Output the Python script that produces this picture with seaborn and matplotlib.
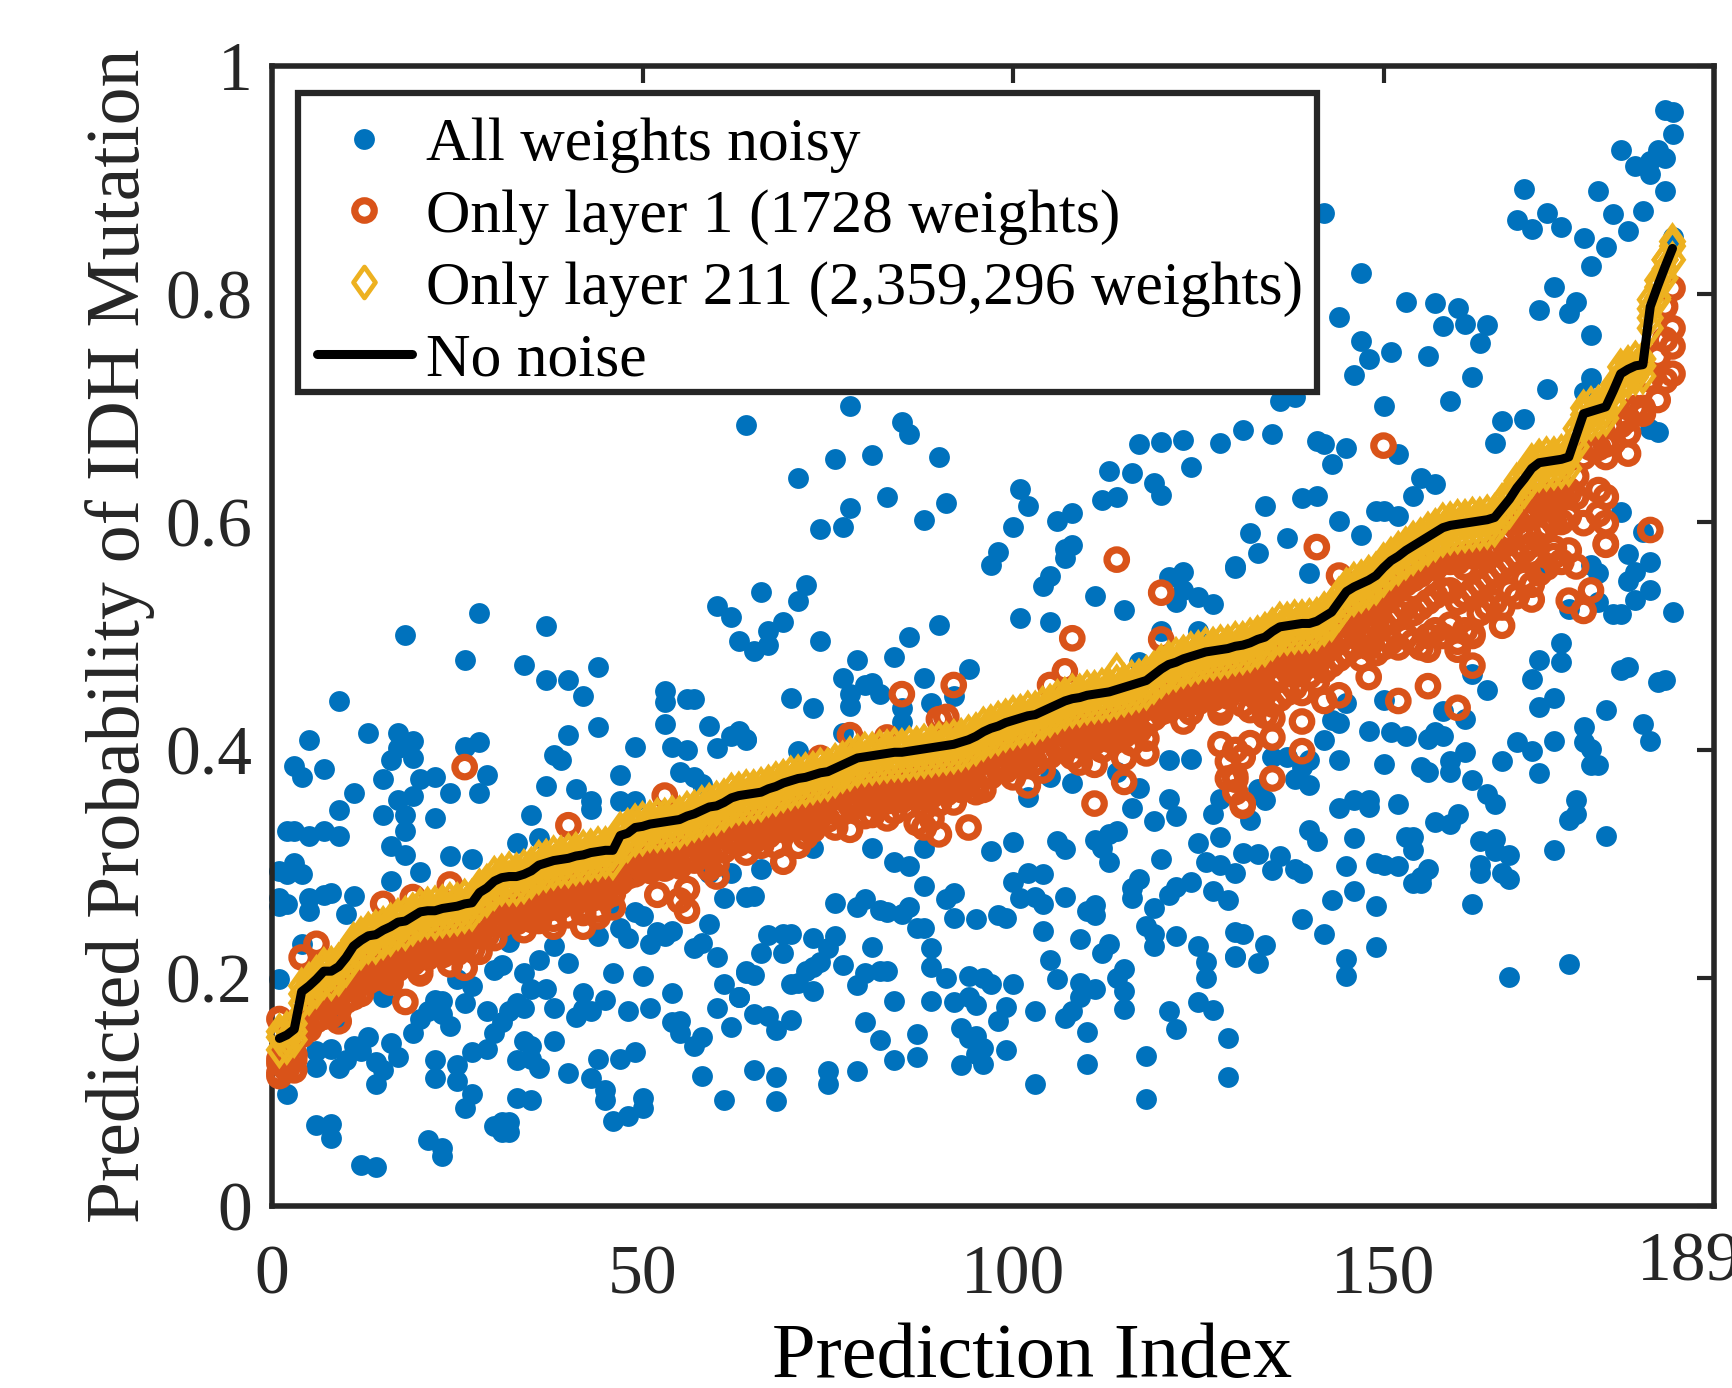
import matplotlib
matplotlib.use('Agg')
import matplotlib.pyplot as plt
from matplotlib.lines import Line2D
from matplotlib.patches import Rectangle
from matplotlib.path import Path
import pandas as pd
import seaborn as sns

# All weights noisy as (prediction index, probability)
noisy_left = [(28,.520),(18,.501),(37,.509),(26,.479),(34,.475),(37,.461),(40,.461),(42,.447),(44,.473),(9,.443),
    (5,.409),(13,.415),(17,.415),(19,.408),(3,.386),(4,.376),(7,.383),(17,.402),(16,.391),(19,.393),
    (15,.375),(26,.403),(28,.407),(29,.378),(20,.375),(22,.376),(24,.362),(28,.362),(19,.360),(17,.356),
    (11,.362),(9,.347),(15,.343),(18,.343),(22,.340),(18,.329),(2,.329),(3,.329),(5,.325),(7,.329),
    (9,.325),(16,.316),(18,.308),(24,.307),(27,.304),(1,.294),(3,.301),(4,.291),(2,.291),(20,.293),
    (16,.285),(1,.270),(1,.263),(2,.265),(5,.270),(5,.259),(8,.275),(11,.272),(10,.256),(7,.273),
    (4,.230),(1,.199),(15,.183),(9,.162),(6,.136),(6,.122),(8,.138),(9,.121),(10,.128),(11,.140),
    (13,.148),(12,.136),(14,.126),(15,.119),(14,.107),(16,.143),(17,.131),(19,.152),(20,.164),(21,.171),
    (22,.181),(23,.180),(23,.168),(24,.158),(26,.178),(25,.199),(27,.193),(22,.128),(22,.112),(25,.124),
    (25,.110),(27,.135),(29,.171),(27,.098),(26,.086),(29,.138),(30,.152),(31,.161),(32,.171),(33,.178),
    (34,.174),(35,.190),(37,.190),(38,.174),(30,.207),(31,.211),(34,.204),(36,.216),(38,.228),(40,.213),
    (32,.232),(34,.145),(35,.140),(38,.145),(33,.128),(35,.129),(36,.121),(40,.117),(43,.112),(44,.129),
    (45,.102),(45,.093),(47,.129),(49,.135),(50,.095),(50,.086),(46,.075),(48,.079),(33,.095),(35,.093),
    (30,.070),(31,.074),(32,.074),(31,.065),(32,.065),(6,.071),(8,.072),(8,.060),(21,.058),(23,.051),
    (23,.044),(12,.036),(14,.034),(2,.098),(42,.187),(42,.173),(41,.166),(43,.171),(45,.181),(48,.171),
    (51,.174),(46,.204),(50,.202),(54,.187),(54,.161),(55,.162),(55,.152),(58,.148),(57,.140),(58,.114),
    (61,.093),(60,.174),(63,.183),(61,.195),(60,.218),(62,.157),(64,.206),(44,.237),(46,.261),(47,.244),
    (48,.235),(49,.258),(50,.254),(51,.230),(52,.240),(54,.241),(53,.237),(57,.226),(58,.231),(59,.247),
    (61,.270),(33,.318),(36,.323),(35,.343),(37,.368),(38,.396),(39,.391),(40,.413),(44,.420),(41,.366),
    (43,.355),(43,.348),(47,.378),(49,.403),(47,.355),(49,.355),(53,.452),(53,.442),(53,.423),(56,.445),
    (57,.445),(59,.421),(54,.403),(56,.400),(60,.402),(62,.412),(63,.415),(64,.410),(55,.381),(57,.376),
    (58,.370),(60,.526),(62,.517),(59,.292),(62,.292),(48,.289),(46,.289)]

noisy_mid = [(64,.685),(78,.702),(85,.688),(86,.677),(76,.655),(81,.659),(90,.657),(71,.639),(83,.622),(91,.617),
    (78,.612),(74,.594),(77,.596),(88,.602),(117,.668),(120,.670),(123,.672),(128,.669),(131,.681),(124,.648),
    (113,.645),(116,.643),(119,.634),(120,.624),(112,.619),(114,.622),(101,.629),(102,.614),(108,.608),(106,.601),
    (100,.596),(98,.574),(97,.562),(108,.580),(107,.576),(107,.568),(105,.553),(104,.544),(121,.552),(123,.556),
    (130,.561),(123,.540),(122,.530),(125,.534),(127,.528),(111,.535),(115,.523),(101,.516),(105,.512),(66,.539),
    (72,.545),(71,.531),(69,.512),(67,.504),(67,.492),(65,.487),(63,.496),(74,.496),(86,.499),(90,.510),
    (84,.482),(79,.479),(94,.471),(88,.463),(77,.463),(81,.459),(80,.457),(82,.449),(78,.449),(78,.439),
    (70,.446),(73,.437),(85,.437),(89,.441),(92,.447),(64,.409),(63,.417),(77,.415),(71,.399),(85,.425),
    (120,.504),(117,.477),(125,.504),(66,.296),(73,.314),(81,.314),(88,.314),(97,.311),(100,.319),(84,.302),
    (86,.298),(88,.281),(92,.275),(91,.269),(92,.253),(95,.252),(98,.255),(99,.253),(65,.272),(64,.271),
    (76,.266),(79,.262),(80,.269),(82,.260),(83,.258),(85,.256),(86,.262),(87,.244),(88,.244),(67,.238),
    (69,.239),(70,.239),(66,.222),(73,.235),(76,.237),(75,.226),(69,.222),(81,.227),(89,.226),(89,.210),
    (91,.200),(65,.203),(64,.204),(74,.214),(77,.211),(73,.210),(72,.206),(71,.196),(73,.189),(70,.195),
    (79,.194),(80,.204),(82,.206),(83,.206),(84,.180),(89,.180),(92,.179),(94,.202),(96,.200),(97,.195),
    (100,.195),(94,.183),(95,.176),(99,.175),(98,.162),(103,.171),(63,.183),(65,.168),(67,.167),(68,.154),
    (70,.163),(80,.161),(82,.146),(87,.151),(87,.131),(84,.128),(93,.156),(94,.147),(95,.149),(96,.139),
    (99,.137),(93,.124),(95,.133),(96,.125),(65,.119),(68,.113),(75,.118),(75,.107),(79,.118),(68,.092),
    (103,.107),(110,.125),(118,.132),(118,.094),(129,.147),(129,.113),(110,.153),(107,.165),(121,.171),(122,.155),
    (125,.179),(127,.172),(115,.173),(111,.190),(109,.196),(109,.183),(108,.171),(106,.199),(105,.216),(104,.241),
    (109,.234),(112,.222),(113,.230),(115,.208),(114,.200),(115,.189),(117,.287),(116,.279),(116,.270),(119,.261),
    (118,.246),(119,.239),(119,.228),(122,.237),(122,.280),(121,.273),(124,.284),(127,.276),(129,.268),(125,.228),
    (126,.214),(126,.200),(130,.240),(130,.219),(130,.292),(128,.299),(126,.302),(125,.318),(128,.324),(120,.304),
    (106,.320),(107,.313),(111,.321),(112,.314),(113,.302),(114,.329),(113,.326),(100,.284),(101,.270),(102,.292),
    (103,.271),(104,.265),(104,.291),(107,.271),(110,.259),(111,.264),(111,.255),(119,.338),(122,.342),(121,.357),
    (116,.349),(127,.344),(128,.357),(105,.376),(108,.371),(117,.367),(114,.381),(121,.391),(124,.392),(102,.359)]

noisy_right = [(188,.961),(189,.960),(189,.940),(182,.926),(187,.926),(188,.919),(186,.917),(184,.912),(186,.905),(188,.890),
    (169,.892),(179,.890),(168,.865),(170,.857),(172,.871),(174,.859),(181,.870),(185,.873),(183,.855),(177,.849),
    (180,.841),(178,.825),(173,.806),(171,.786),(176,.793),(175,.783),(178,.764),(189,.850),(142,.871),(147,.818),
    (144,.780),(153,.793),(157,.792),(160,.788),(158,.772),(161,.774),(164,.773),(163,.757),(156,.746),(151,.749),
    (147,.759),(148,.743),(146,.729),(162,.727),(159,.706),(150,.702),(172,.717),(136,.706),(138,.710),(135,.677),
    (141,.671),(142,.668),(145,.665),(143,.651),(152,.660),(166,.689),(169,.690),(165,.669),(155,.639),(157,.633),
    (154,.623),(141,.623),(139,.621),(134,.614),(149,.610),(150,.610),(152,.605),(144,.601),(132,.590),(137,.586),
    (147,.589),(133,.573),(130,.560),(140,.555),(187,.679),(186,.682),(178,.726),(177,.714),(182,.609),(183,.572),
    (186,.565),(184,.556),(179,.555),(178,.562),(172,.561),(185,.591),(189,.521),(181,.519),(182,.519),(186,.540),
    (184,.532),(183,.548),(179,.530),(175,.524),(174,.494),(174,.477),(171,.479),(170,.462),(182,.470),(183,.473),
    (187,.460),(188,.461),(164,.453),(162,.467),(173,.446),(171,.438),(180,.435),(177,.420),(177,.407),(178,.401),
    (185,.423),(186,.408),(173,.408),(168,.407),(170,.399),(161,.427),(158,.434),(150,.444),(145,.441),(144,.424),
    (143,.426),(148,.417),(151,.416),(153,.412),(156,.410),(157,.416),(158,.412),(142,.409),(144,.391),(150,.388),
    (155,.385),(156,.381),(159,.390),(159,.381),(161,.398),(166,.390),(171,.380),(178,.387),(179,.387),(162,.374),
    (164,.361),(165,.353),(176,.356),(176,.344),(175,.339),(152,.353),(148,.356),(148,.350),(146,.356),(144,.349),
    (160,.344),(159,.335),(157,.337),(180,.325),(173,.312),(163,.320),(165,.322),(167,.308),(165,.311),(146,.323),
    (140,.330),(141,.320),(154,.324),(153,.324),(154,.312),(131,.310),(133,.309),(136,.307),(135,.295),(138,.296),
    (139,.292),(145,.298),(149,.301),(150,.299),(152,.298),(156,.296),(155,.289),(154,.283),(155,.283),(163,.299),
    (163,.292),(166,.292),(167,.287),(146,.276),(143,.268),(149,.263),(162,.265),(139,.252),(142,.239),(131,.239),
    (134,.229),(130,.218),(133,.213),(145,.217),(145,.202),(149,.227),(167,.201),(175,.212),(132,.339),(134,.356),
    (133,.366),(138,.375),(140,.369),(139,.385),(140,.391),(137,.394),(135,.394)]

# No noise, one value per prediction index 1..189
no_noise = [.147,.150,.155,.188,.193,.199,.206,.206,.210,.218,
    .228,.233,.237,.238,.242,.245,.249,.250,.254,.258,
    .259,.259,.261,.262,.263,.265,.266,.275,.279,.285,
    .288,.289,.289,.291,.294,.299,.301,.303,.304,.305,
    .307,.308,.310,.311,.312,.312,.325,.327,.332,.333,
    .335,.336,.337,.338,.339,.342,.344,.347,.350,.351,
    .354,.358,.360,.361,.362,.363,.366,.368,.371,.373,
    .375,.376,.378,.380,.381,.384,.387,.390,.393,.394,
    .395,.396,.397,.398,.398,.399,.400,.401,.402,.403,
    .404,.405,.407,.409,.412,.416,.419,.421,.424,.426,
    .428,.430,.431,.434,.437,.440,.443,.445,.446,.448,
    .449,.450,.451,.453,.455,.457,.459,.461,.466,.471,
    .475,.477,.480,.482,.484,.486,.487,.488,.489,.491,
    .492,.494,.497,.499,.504,.508,.509,.510,.511,.511,
    .513,.517,.521,.530,.539,.543,.546,.549,.553,.560,
    .566,.570,.575,.579,.583,.587,.591,.595,.597,.598,
    .599,.600,.601,.602,.604,.612,.620,.630,.638,.647,
    .652,.653,.654,.655,.657,.676,.695,.697,.699,.701,
    .715,.730,.734,.737,.738,.789,.807,.824,.840]

# Only layer 211, the yellow band around the no noise line: middle, top and bottom rows
layer211 = [.148,.147,.153,.186,.192,.197,.205,.204,.209,.216,
    .227,.231,.236,.236,.241,.243,.248,.248,.253,.256,
    .258,.257,.260,.260,.262,.263,.265,.273,.278,.283,
    .287,.287,.288,.289,.293,.297,.300,.301,.303,.303,
    .306,.306,.309,.309,.311,.310,.324,.325,.331,.331,
    .334,.334,.336,.336,.338,.340,.343,.345,.349,.349,
    .353,.356,.359,.359,.361,.361,.365,.366,.370,.371,
    .374,.374,.377,.378,.380,.382,.386,.388,.392,.392,
    .394,.394,.396,.396,.397,.397,.399,.399,.401,.401,
    .403,.403,.406,.407,.411,.414,.418,.419,.423,.424,
    .427,.428,.430,.432,.436,.438,.442,.443,.445,.446,
    .448,.448,.450,.451,.454,.455,.458,.459,.465,.469,
    .474,.475,.479,.480,.483,.484,.486,.486,.488,.489,
    .491,.492,.496,.497,.503,.506,.508,.508,.510,.509,
    .512,.515,.520,.528,.538,.541,.545,.547,.552,.558,
    .565,.568,.574,.577,.582,.585,.590,.593,.596,.596,
    .598,.598,.600,.600,.603,.610,.619,.628,.637,.645,
    .651,.651,.653,.653,.656,.674,.694,.695,.698,.699,
    .714,.728,.733,.735,.737,.787,.806,.822,.842]
layer211_top = [.153,.155,.160,.193,.198,.204,.211,.212,.215,.223,
    .233,.238,.242,.244,.247,.250,.254,.256,.259,.263,
    .264,.265,.266,.268,.268,.271,.271,.280,.284,.291,
    .293,.295,.294,.297,.299,.305,.306,.309,.309,.311,
    .312,.314,.315,.317,.317,.318,.330,.333,.337,.339,
    .340,.342,.342,.344,.344,.348,.349,.353,.355,.357,
    .359,.364,.365,.367,.367,.369,.371,.374,.376,.379,
    .380,.382,.383,.386,.386,.390,.392,.396,.398,.400,
    .400,.402,.402,.404,.403,.405,.405,.407,.407,.409,
    .409,.411,.412,.415,.417,.422,.424,.427,.429,.432,
    .433,.436,.436,.440,.442,.446,.448,.451,.451,.454,
    .454,.456,.456,.459,.460,.463,.464,.467,.471,.477,
    .480,.483,.485,.488,.489,.492,.492,.494,.494,.497,
    .497,.500,.502,.505,.509,.514,.514,.516,.516,.517,
    .518,.523,.526,.536,.544,.549,.551,.555,.558,.566,
    .571,.576,.580,.585,.588,.593,.596,.601,.602,.604,
    .604,.606,.606,.608,.609,.618,.625,.636,.643,.653,
    .657,.659,.659,.661,.662,.682,.700,.703,.704,.707,
    .720,.736,.739,.743,.743,.795,.812,.830,.846]
layer211_low = [.137,.140,.146,.178,.183,.189,.197,.196,.200,.208,
    .218,.223,.228,.228,.232,.235,.240,.240,.244,.248,
    .250,.249,.251,.252,.253,.255,.257,.265,.269,.275,
    .279,.279,.279,.281,.285,.289,.291,.293,.295,.295,
    .297,.298,.300,.301,.303,.302,.315,.317,.322,.323,
    .326,.326,.327,.328,.329,.332,.335,.337,.340,.341,
    .344,.348,.350,.351,.352,.353,.357,.358,.361,.363,
    .365,.366,.368,.370,.371,.374,.378,.380,.383,.384,
    .385,.386,.387,.388,.388,.389,.390,.391,.392,.393,
    .394,.395,.397,.399,.402,.406,.409,.411,.414,.416,
    .418,.420,.421,.424,.427,.430,.433,.435,.436,.438,
    .439,.440,.441,.443,.445,.447,.449,.451,.456,.461,
    .465,.467,.470,.472,.474,.476,.477,.478,.479,.481,
    .482,.484,.487,.489,.494,.498,.499,.500,.501,.501,
    .503,.507,.511,.520,.529,.533,.536,.539,.543,.550,
    .556,.560,.565,.569,.573,.577,.581,.585,.587,.588,
    .589,.590,.591,.592,.594,.602,.610,.620,.628,.637,
    .642,.643,.644,.645,.647,.666,.685,.687,.689,.691,
    .705,.720,.724,.727,.728,.779,.797,.814,.830]
layer211_extra = [(114,.469),(188,.830),(187,.795),(186,.770)]

# Only layer 1, upper rows of the orange band, one value per index
layer1_a = [.125,.128,.132,.160,.170,.176,.180,.183,.185,.192,
    .203,.207,.212,.213,.216,.220,.223,.226,.228,.233,
    .234,.235,.235,.238,.237,.240,.241,.250,.253,.260,
    .263,.264,.265,.266,.268,.274,.275,.279,.279,.281,
    .281,.284,.284,.287,.287,.288,.299,.303,.306,.309,
    .309,.312,.311,.314,.314,.318,.318,.323,.324,.327,
    .328,.334,.334,.337,.336,.339,.340,.344,.345,.349,
    .349,.352,.352,.356,.355,.360,.361,.366,.367,.370,
    .369,.372,.371,.374,.372,.375,.374,.377,.376,.379,
    .378,.381,.381,.385,.386,.392,.393,.397,.398,.402,
    .402,.406,.405,.410,.411,.416,.417,.421,.420,.424,
    .423,.426,.425,.429,.429,.433,.433,.437,.440,.447,
    .449,.453,.454,.458,.458,.462,.461,.464,.463,.467,
    .464,.468,.468,.472,.475,.480,.480,.483,.482,.484,
    .484,.490,.492,.501,.510,.515,.517,.521,.524,.532,
    .537,.542,.546,.551,.554,.559,.562,.567,.568,.570,
    .570,.572,.572,.574,.575,.584,.591,.602,.609,.619,
    .623,.625,.625,.627,.628,.640,.657,.665,.665,.668,
    .670,.685,.690,.700,.700,.725,.745,.760,.770]

layer1_b = [.117,.120,.128,.150,.155,.163,.166,.167,.172,.180,
    .190,.195,.197,.200,.201,.207,.208,.212,.213,.220,
    .218,.222,.220,.224,.222,.227,.225,.237,.238,.247,
    .247,.251,.249,.253,.254,.261,.260,.265,.263,.267,
    .266,.270,.269,.273,.271,.274,.284,.289,.291,.295,
    .294,.298,.296,.300,.298,.304,.303,.309,.309,.313,
    .312,.320,.318,.323,.320,.325,.325,.330,.330,.335,
    .333,.338,.336,.342,.339,.346,.345,.352,.351,.356,
    .353,.358,.355,.360,.356,.361,.358,.363,.360,.365,
    .362,.367,.365,.371,.370,.378,.377,.383,.382,.388,
    .386,.392,.389,.396,.395,.402,.401,.407,.404,.410,
    .407,.412,.409,.415,.413,.419,.417,.423,.428,.433,
    .435,.439,.440,.444,.442,.448,.445,.450,.447,.453]

# deeper part of the band and the loose rings
layer1_deep = [(12,.186),(16,.196),(20,.208),(24,.212),(30,.235),(34,.242),(36,.250),(38,.252),(40,.255),(42,.257),
    (44,.260),(46,.262),(60,.300),(64,.310),(68,.316),(72,.324),(76,.332),(80,.342),(84,.346),(88,.349),
    (92,.354),(96,.365),(100,.376),(104,.382),(108,.394),(112,.400),(116,.406),(118,.410),(124,.433),(128,.438),
    (131,.440),(131,.455),(131,.470),(132,.435),(132,.450),(132,.470),(133,.445),(133,.460),(133,.475),(134,.430),
    (134,.450),(134,.470),(135,.440),(135,.460),(135,.480),(136,.445),(136,.465),(136,.485),(137,.450),(137,.470),
    (137,.490),(138,.455),(138,.470),(138,.490),(139,.450),(139,.470),(139,.490),(140,.465),(140,.480),(140,.495),
    (141,.460),(141,.475),(141,.495),(142,.470),(142,.485),(142,.500),(143,.475),(143,.490),(143,.505),(144,.480),
    (144,.495),(144,.515),(145,.485),(145,.500),(145,.520),(146,.490),(146,.505),(146,.525),(147,.480),(147,.500),
    (147,.520),(148,.490),(148,.505),(148,.525),(149,.485),(149,.510),(149,.530),(150,.490),(150,.510),(150,.535),
    (151,.495),(151,.515),(151,.540),(152,.490),(152,.520),(152,.545),(153,.500),(153,.525),(153,.550),(154,.495),
    (154,.520),(154,.550),(155,.490),(155,.525),(155,.555),(156,.500),(156,.530),(156,.560),(157,.505),(157,.535),
    (157,.560),(158,.500),(158,.540),(158,.565),(159,.510),(159,.540),(159,.565),(160,.495),(160,.530),(160,.565),
    (161,.505),(161,.535),(161,.560),(162,.500),(162,.540),(162,.570),(163,.520),(163,.545),(163,.570),(164,.525),
    (164,.550),(164,.575),(165,.530),(165,.555),(165,.575),(166,.525),(166,.560),(166,.585),(167,.540),(167,.565),
    (167,.590),(168,.535),(168,.570),(168,.600),(169,.550),(169,.575),(169,.605),(170,.545),(170,.580),(170,.610),
    (171,.555),(171,.590),(171,.615),(172,.560),(172,.595),(172,.620),(173,.570),(173,.600),(173,.620),(174,.565),
    (174,.600),(174,.625),(175,.575),(175,.605),(175,.625),(179,.628),(180,.622),(176,.622),(179,.607),(180,.599),
    (177,.599),(180,.581),(183,.660),(180,.657),(183,.678),(185,.695),(187,.707),(188,.724),(189,.730),(189,.754),
    (189,.805),(188,.789)]

layer1_loose = [(26,.385),(6,.230),(4,.218),(40,.334),(53,.360),(24,.282),(19,.271),(15,.265),(9,.162),(11,.183),
    (18,.179),(16,.200),(20,.204),(26,.209),(28,.223),(1,.114),(3,.119),(1,.129),(3,.133),(1,.164),
    (52,.273),(56,.278),(56,.259),(60,.289),(59,.296),(55,.268),(38,.245),(35,.251),(42,.245),(44,.254),
    (114,.567),(120,.538),(108,.498),(120,.497),(107,.469),(105,.457),(85,.449),(92,.457),(91,.429),(90,.427),
    (78,.413),(83,.411),(74,.393),(94,.332),(111,.353),(115,.372),(109,.389),(111,.387),(115,.393),(118,.397),
    (102,.369),(95,.363),(90,.326),(88,.332),(87,.336),(83,.340),(81,.343),(78,.330),(69,.302),(71,.316),
    (73,.330),(128,.405),(130,.377),(130,.363),(131,.351),(123,.425),(128,.433),(121,.437),(90,.353),(89,.340),
    (66,.316),(141,.578),(144,.553),(176,.561),(178,.540),(175,.531),(177,.522),(170,.532),(166,.509),(162,.502),
    (162,.474),(160,.437),(156,.456),(152,.443),(148,.464),(144,.448),(142,.443),(139,.425),(139,.399),(135,.411),
    (135,.375),(131,.353),(135,.428),(132,.406),(131,.394),(130,.374),(170,.570),(173,.577),(180,.580),(156,.488),
    (160,.488),(150,.667),(186,.593),(129,.375),(129,.390),(130,.400)]

y_ticks = [0, 0.2, 0.4, 0.6, 0.8, 1]
y_tick_labels = ['0', '0.2', '0.4', '0.6', '0.8', '1']
x_ticks = [0, 50, 100, 150]
x_tick_labels = ['0', '50', '100', '150']

blue = '#0072BD'
orange = '#D95319'
yellow = '#EDB120'
dark = '#262626'

sns.set_style('white')
plt.rcParams['font.family'] = ['Liberation Serif', 'DejaVu Serif']

index = list(range(1, 190))
noisy = pd.DataFrame(noisy_left + noisy_mid + noisy_right, columns=['idx', 'prob'])
rings = pd.DataFrame(list(zip(index, layer1_a)) + list(zip(index, layer1_b)) + layer1_deep + layer1_loose,
                     columns=['idx', 'prob'])
diamonds = pd.DataFrame(list(zip(index, layer211_low)) + list(zip(index, layer211_top)) + list(zip(index, layer211))
                        + layer211_extra, columns=['idx', 'prob'])
line = pd.DataFrame({'idx': index, 'prob': no_noise})

fig = plt.figure(figsize=(17.32, 13.88), dpi=100)
ax = fig.add_axes([272 / 1732, 1 - 1206 / 1388, 1442 / 1732, 1140 / 1388])

sns.scatterplot(data=noisy, x='idx', y='prob', ax=ax, color=blue, s=225, linewidth=0, clip_on=False, zorder=2)
sns.scatterplot(data=rings, x='idx', y='prob', ax=ax, color=orange, edgecolor=orange, s=196, linewidth=5.2,
                clip_on=False, zorder=3)
ax.collections[-1].set_facecolor('none')

diamond = Path([(0, 1), (0.71, 0), (0, -1), (-0.71, 0), (0, 1)], closed=True)
sns.scatterplot(data=diamonds, x='idx', y='prob', ax=ax, color=yellow, edgecolor=yellow, marker=diamond, s=497,
                linewidth=3.4, clip_on=False, zorder=4)
ax.collections[-1].set_facecolor('none')
ax.collections[-1].set_joinstyle('miter')

sns.lineplot(data=line, x='idx', y='prob', ax=ax, color='black', linewidth=6.5, zorder=5, errorbar=None)

ax.set_xlim(0, 194.6)
ax.set_ylim(0, 1)
ax.set_xticks(x_ticks)
ax.set_xticklabels(x_tick_labels, fontsize=50, color=dark)
ax.set_yticks(y_ticks)
ax.set_yticklabels(y_tick_labels, fontsize=50, color=dark)
ax.tick_params(direction='in', top=True, right=True, length=12, width=3, color=dark, pad=14)
ax.tick_params(axis='x', pad=28)
ax.text(191.2, -0.051, '189', fontsize=50, color=dark, ha='center', va='center', clip_on=False)
for side in ax.spines.values():
    side.set_linewidth(4)
    side.set_color(dark)

ax.set_xlabel('Prediction Index', fontsize=56.4, color='black')
ax.xaxis.set_label_coords(0.527, -0.102)
ax.set_ylabel('Predicted Probability of IDH Mutation', fontsize=54.5, color=dark)
ax.yaxis.set_label_coords(-0.081, 0.5)

# legend frame drawn by hand so the rows can sit where they do in the reference
frame = Rectangle((298 / 1732, 1 - 392 / 1388), (1317 - 298) / 1732, (392 - 93) / 1388, transform=fig.transFigure,
                  facecolor='white', edgecolor=dark, linewidth=4.5, zorder=9, clip_on=False)
ax.add_patch(frame)

handles = [
    Line2D([], [], linestyle='none', marker='o', markersize=15, color=blue, markeredgewidth=0),
    Line2D([], [], linestyle='none', marker='o', markersize=14, markerfacecolor='none', markeredgecolor=orange,
           markeredgewidth=5.2),
    Line2D([], [], linestyle='none', marker=diamond, markersize=22.3, markerfacecolor='none', markeredgecolor=yellow,
           markeredgewidth=3.4),
    Line2D([], [], color='black', linewidth=6.5),
]
labels = ['All weights noisy', 'Only layer 1 (1728 weights)', 'Only layer 211 (2,359,296 weights)', 'No noise']
legend = ax.legend(handles, labels, loc='upper left', bbox_to_anchor=(298 / 1732, 1 - 98.5 / 1388),
                   bbox_transform=fig.transFigure, fontsize=44.4, frameon=False, borderaxespad=0, borderpad=0.3,
                   labelspacing=0.25, handlelength=1.55, handletextpad=0.22, labelcolor='black')
legend.set_zorder(10)

fig.savefig('out.png', dpi=100)
